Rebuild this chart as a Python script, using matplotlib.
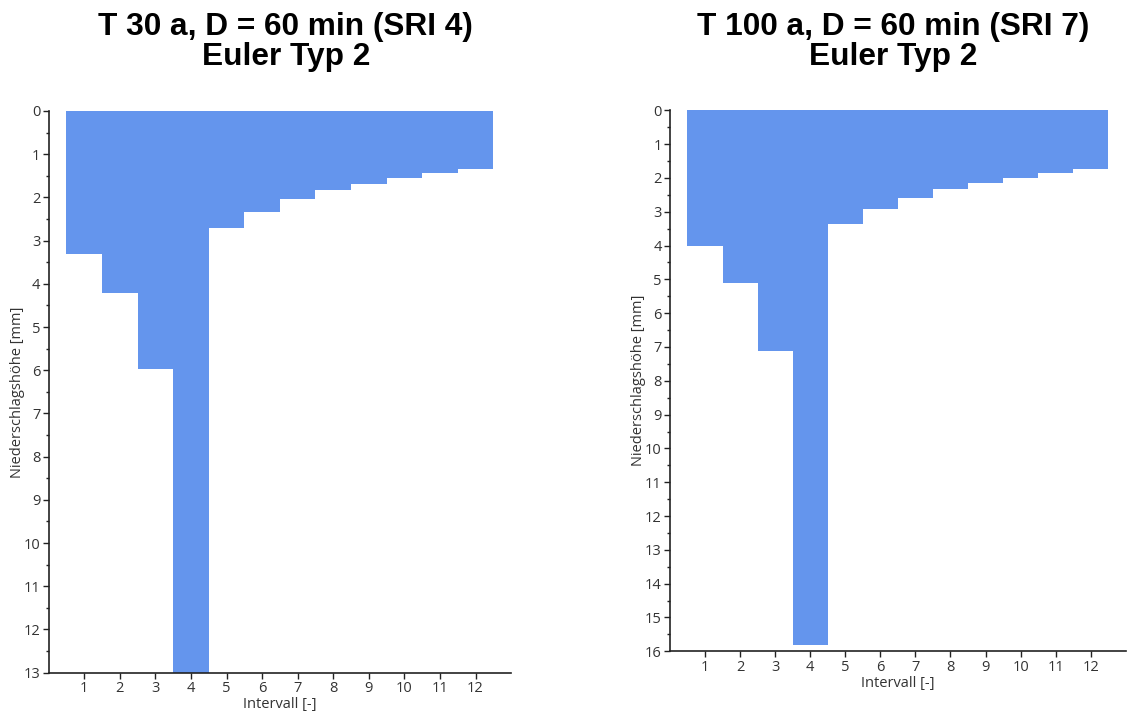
import matplotlib
matplotlib.use("Agg")
import matplotlib.pyplot as plt
from matplotlib.ticker import MultipleLocator

# Intervalle 1..12
intervalle = list(range(1, 13))

# Niederschlagshöhe je Intervall [mm], Euler Typ 2
h_t30 = [3.30, 4.22, 5.98, 13.0, 2.72, 2.33, 2.04, 1.83, 1.68, 1.54, 1.44, 1.35]
h_t100 = [4.02, 5.10, 7.13, 15.8, 3.37, 2.91, 2.60, 2.33, 2.14, 1.99, 1.86, 1.74]

titel = ["T 30 a, D = 60 min (SRI 4)\nEuler Typ 2",
         "T 100 a, D = 60 min (SRI 7)\nEuler Typ 2"]
ymax = [13, 16]

farbe = "#6495ED"
tickfarbe = "#333333"

fig = plt.figure(figsize=(11.46, 7.15), dpi=100)
ax1 = fig.add_axes([0.0425, 0.0592, 0.4035, 0.7856])
ax2 = fig.add_axes([0.5846, 0.0891, 0.3978, 0.7566])

for ax, h, t, ym, lx in zip([ax1, ax2], [h_t30, h_t100], titel, ymax,
                            [-0.051, -0.053]):
    ax.bar(intervalle, h, width=1.0, color=farbe, linewidth=0)
    ax.set_xlim(0, 13)
    ax.set_ylim(ym, 0)
    ax.set_xticks(intervalle)
    ax.yaxis.set_major_locator(MultipleLocator(1))
    ax.yaxis.set_minor_locator(MultipleLocator(0.5))
    ax.spines["top"].set_visible(False)
    ax.spines["right"].set_visible(False)
    for s in ["left", "bottom"]:
        ax.spines[s].set_color("#222222")
        ax.spines[s].set_linewidth(1.2)
    ax.tick_params(which="major", length=4, width=1, colors="#222222",
                   labelcolor=tickfarbe, labelsize=10.5, pad=2)
    ax.tick_params(which="minor", length=2.5, width=1, colors="#222222")
    for lab in ax.get_xticklabels() + ax.get_yticklabels():
        lab.set_family("Open Sans")
    ax.set_xlabel("Intervall [-]", family="Open Sans", fontsize=10.5,
                  color=tickfarbe, labelpad=1)
    ax.set_ylabel("Niederschlagshöhe [mm]", family="Open Sans", fontsize=10.5,
                  color=tickfarbe)
    ax.yaxis.set_label_coords(lx, 0.5)

fig.text(0.2495, 0.941, titel[0], ha="center", va="center", fontsize=22.8,
         fontweight="bold", family="Liberation Sans", linespacing=1.0)
fig.text(0.779, 0.941, titel[1], ha="center", va="center", fontsize=22.8,
         fontweight="bold", family="Liberation Sans", linespacing=1.0)

fig.savefig("out.png", dpi=100)
